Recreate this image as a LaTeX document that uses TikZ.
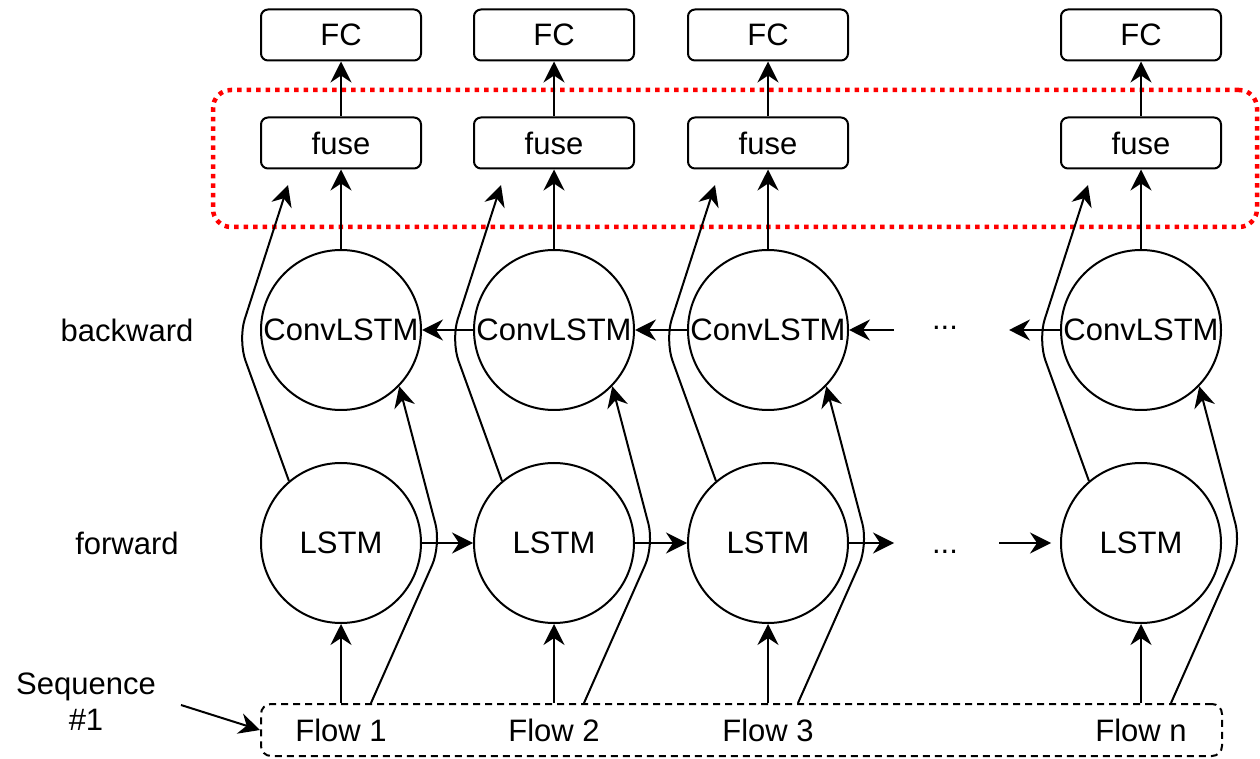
\documentclass[tikz,border=0pt]{standalone}
\usepackage{fontspec}
\setmainfont{Liberation Sans}
\usetikzlibrary{arrows.meta,calc}

\begin{document}
\begin{tikzpicture}[x=1pt, y=1pt, line width=2pt,
  every node/.style={font=\fontsize{31}{36}\selectfont},
  arr/.style={-{Stealth[length=21pt,width=21pt,inset=7pt]}},
  layerbox/.style={draw, rounded corners=7pt, minimum width=160pt, minimum height=51pt, inner sep=0pt},
  cell/.style={draw, circle, minimum size=160pt, inner sep=0pt},
  groupbox/.style={draw=red, line width=4.5pt, dash pattern=on 4.5pt off 5pt, rounded corners=18pt,
                   minimum width=1044pt, minimum height=137pt, inner sep=0pt},
  inputbox/.style={draw, dash pattern=on 7pt off 5pt, rounded corners=10pt,
                   minimum width=961pt, minimum height=52pt, inner sep=0pt},
  label/.style={inner sep=0pt, align=center}
]
\useasboundingbox (0,0) rectangle (1260,758);

% fusion region
\node[groupbox] (grp) at (735,599.5) {};

% input sequence
\node[inputbox] (fb) at (741.5,28) {};
\node[label] (seq) at (86,56) {Sequence\\\#1};
\coordinate (seqtail) at (181,53);
\draw[arr] (seqtail) -- (fb.west);

% row labels
\node[label] (bw) at (127,428) {backward};
\node[label] (fw) at (127,215) {forward};

% one column per time step
\foreach \i/\x/\t in {1/341/Flow 1, 2/554/Flow 2, 3/768/Flow 3, 4/1141/Flow n}{
  \node[layerbox] (fc\i) at (\x,723) {FC};
  \node[layerbox] (f\i) at (\x,615) {fuse};
  \node[cell] (c\i) at (\x,428) {\makebox[0pt]{ConvLSTM}};
  \node[cell] (l\i) at (\x,215) {LSTM};
  \node[label] (in\i) at (\x,28) {\t};
  \coordinate (fs\i) at ($(fb.north -| l\i.south)+(30,0)$);
  \coordinate (bb\i) at ($(l\i.center)+(100,-2)$);
  \coordinate (ba\i) at ($(c\i.center)+(-103,-10)$);
  \coordinate (ta\i) at ($(f\i.center)+(-53,-42)$);
  \draw[arr] (f\i.north) -- (fc\i.south);
  \draw[arr] (c\i.north) -- (f\i.south);
  \draw[arr] (fb.north -| l\i.south) -- (l\i.south);
  \draw[arr, rounded corners=22pt] (l\i.130) -- (ba\i) -- (ta\i);
  \draw[arr, rounded corners=22pt] (fs\i) -- (bb\i) -- (c\i.-44);
}

% backward recurrence
\draw[arr] (c2.west) -- (c1.east);
\draw[arr] (c3.west) -- (c2.east);
\coordinate (bwfree) at ($(c3.east)+(45,0)$);
\draw[arr] (bwfree) -- (c3.east);
\coordinate (bwend) at ($(c4.west)+(-51,0)$);
\draw[arr] (c4.west) -- (bwend);
\node[inner sep=0pt, anchor=base] (bdots) at (945,428) {...};

% forward recurrence
\draw[arr] (l1.east) -- (l2.west);
\draw[arr] (l2.east) -- (l3.west);
\coordinate (fwend) at ($(l3.east)+(45,0)$);
\draw[arr] (l3.east) -- (fwend);
\coordinate (fwstart) at ($(l4.west)+(-61,0)$);
\coordinate (fwtip) at ($(l4.west)+(-9,0)$);
\draw[arr] (fwstart) -- (fwtip);
\node[inner sep=0pt, anchor=base] (fdots) at (945,205) {...};
\end{tikzpicture}
\end{document}
